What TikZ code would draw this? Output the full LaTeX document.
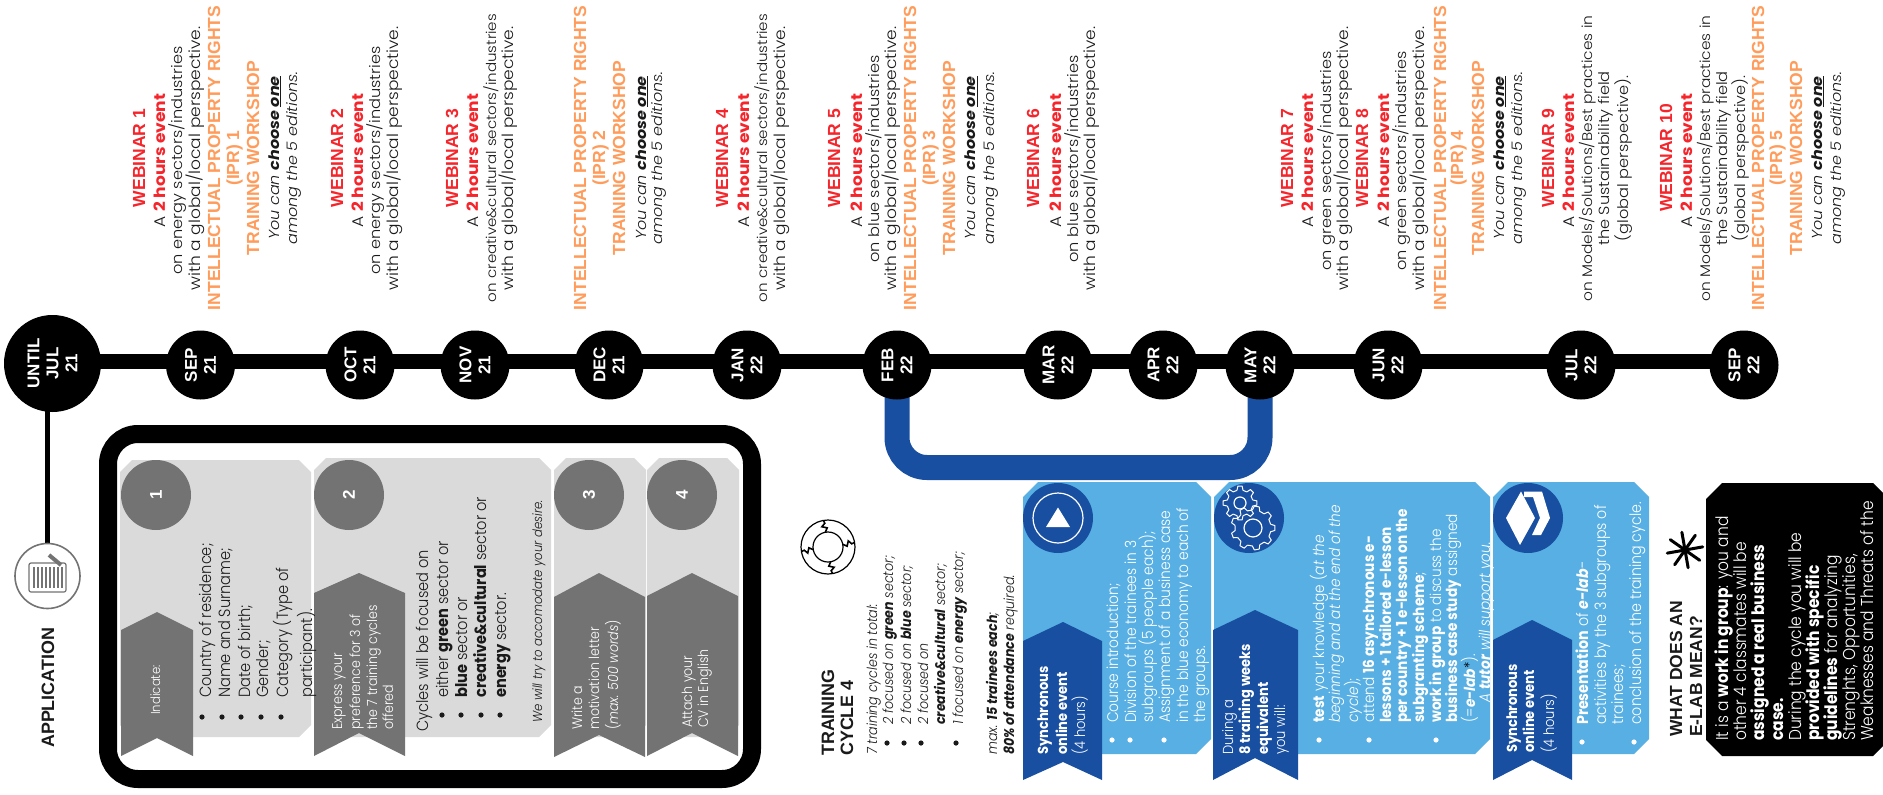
\documentclass[tikz,border=0pt]{standalone}
\usepackage{fontspec}
\usetikzlibrary{backgrounds}
\setmainfont{Poppins}[UprightFont=* Light,ItalicFont=* Light Italic,BoldFont=* Bold,BoldItalicFont=* Bold Italic,FakeStretch=0.9]
\newfontfamily\wfont{Poppins}[UprightFont=* Light,ItalicFont=* Light Italic,BoldFont=* Bold,BoldItalicFont=* Bold Italic,FakeStretch=1.1]
\newfontfamily\hdfont{Liberation Sans Bold}
\definecolor{redw}{HTML}{F5252B}
\definecolor{orw}{HTML}{FF9C5B}
\definecolor{dblue}{HTML}{184FA1}
\definecolor{lblue}{HTML}{57AFE3}
\definecolor{dgray}{HTML}{737373}
\definecolor{lgray}{HTML}{DADADA}
\definecolor{txt}{HTML}{1A1A1A}
\newcounter{tln}
\newcommand{\hf}[1]{\hdfont\fontsize{#1}{#1}\selectfont}
\newcommand{\bsz}[1]{\fontsize{#1}{#1}\selectfont}
\newcommand{\wsz}[1]{\wfont\fontsize{#1}{#1}\selectfont}
% centred rotated line
\newcommand{\cenl}[4][]{\stepcounter{tln}\node[rotate=90,anchor=base,inner sep=0pt,text=txt,#1] (t\thetln) at (#2,#3) {#4};}
% left aligned rotated line (starts at y px, reads upward)
\newcommand{\lft}[4][]{\stepcounter{tln}\node[rotate=90,anchor=base west,inner sep=0pt,text=txt,#1] (t\thetln) at (#2,#3) {#4};}
\newcommand{\webA}[2]{\cenl[text=redw]{#1}{158}{\hf{17.5}WEBINAR #2}}
\newcommand{\aline}[1]{\cenl{#1}{160.5}{\wsz{15.5}A \textcolor{redw}{\textbf{2 hours event}}}}
\newcommand{\bodyl}[3]{\cenl{#1}{#2}{\wsz{15.5}#3}}
\newcommand{\bodyz}[4]{\cenl{#1}{#2}{\wsz{#3}#4}}
\newcommand{\ipr}[5]{%
  \cenl[text=orw]{#1}{158}{\hf{17.5}INTELLECTUAL PROPERTY RIGHTS}
  \cenl[text=orw]{#2}{158}{\hf{17.5}(IPR) #5}
  \cenl[text=orw]{#3}{158}{\hf{17.5}TRAINING WORKSHOP}
  \cenl{#4}{158}{\wsz{14.5}\itshape You can \textbf{choose \underline{one}}}}
\newcommand{\amongl}[1]{\cenl{#1}{158}{\wsz{14.5}\itshape among the 5 editions.}}
\newcommand{\chamf}[6]{\fill[#6] (#1+#5,#2) -- (#3-#5,#2) -- (#3,#2+#5) -- (#3,#4-#5) -- (#3-#5,#4) -- (#1+#5,#4) -- (#1,#4-#5) -- (#1,#2+#5) -- cycle;}
\newcommand{\ribbon}[8]{\fill[#8] (#1,#5) -- (#3,#4) -- (#2,#5) -- (#2,#6) -- (#3,#7) -- (#1,#6) -- cycle;}
\newcommand{\blt}[3][txt]{\fill[#1] (#2,#3) circle (2.6);}
\newcommand{\gearshape}[5]{% cx cy R r n
  \begin{scope}[shift={(#1,#2)},white,line width=1pt,line join=round]
  \foreach \i in {1,...,#5}{
    \pgfmathsetmacro{\a}{\i*360/#5}\pgfmathsetmacro{\w}{360/#5}
    \draw (\a-0.3*\w:#4) -- (\a-0.16*\w:#3) -- (\a+0.16*\w:#3) -- (\a+0.3*\w:#4) -- (\a+0.7*\w:#4);
  }
  \end{scope}}
\begin{document}
\begin{tikzpicture}[x=1pt,y=-1pt,
  tc/.style={circle,fill=black,text=white,rotate=90,align=center,inner sep=0pt,minimum size=69pt,font=\hf{17},execute at begin node={\baselineskip=19pt}},
  numc/.style={circle,fill=dgray,text=white,inner sep=0pt,minimum size=70pt,rotate=90,font=\hf{17}},
  bluec/.style={circle,fill=dblue,inner sep=0pt,minimum size=70pt},
  ww/.style={text=white},
]
\useasboundingbox (0,0) rectangle (1883,795);

% ---- timeline circles
\node[tc,minimum size=97pt] (until) at (52.5,363.5) {UNTIL\\JUL\\21};
\node[tc] (sep21) at (200.5,365) {SEP\\21};
\node[tc] (oct21) at (360,365) {OCT\\21};
\node[tc] (nov21) at (475,365) {NOV\\21};
\node[tc] (dec21) at (609,365) {DEC\\21};
\node[tc] (jan22) at (747,365) {JAN\\22};
\node[tc] (feb22) at (897,365) {FEB\\22};
\node[tc] (mar22) at (1058,365) {MAR\\22};
\node[tc] (apr22) at (1163,365) {APR\\22};
\node[tc] (may22) at (1260,365) {MAY\\22};
\node[tc] (jun22) at (1388,365) {JUN\\22};
\node[tc] (jul22) at (1581,365) {JUL\\22};
\node[tc] (sep22) at (1744,365) {SEP\\22};
\node[circle,draw=dgray,line width=1.6pt,fill=white,minimum size=65pt,inner sep=0pt] (appicon) at (47.5,576) {};
\coordinate (bm) at (1078,467.5);

\begin{scope}[on background layer]
\fill[white] (0,0) rectangle (1883,795);
\draw[black,line width=15pt] ([yshift=1.8pt]until.center) -- ([yshift=3.3pt]sep21.center) -- ([yshift=3.3pt]oct21.center) -- ([yshift=3.3pt]nov21.center) -- ([yshift=3.3pt]dec21.center) -- ([yshift=3.3pt]jan22.center) -- ([yshift=3.3pt]feb22.center) -- ([yshift=3.3pt]mar22.center) -- ([yshift=3.3pt]apr22.center) -- ([yshift=3.3pt]may22.center) -- ([yshift=3.3pt]jun22.center) -- ([yshift=3.3pt]jul22.center) -- ([yshift=3.3pt]sep22.center);
\draw[black,line width=5pt] (appicon.center |- until.center) -- (appicon.center);
\draw[dblue,line width=25pt,rounded corners=30pt] (feb22.center) |- (bm) -| (may22.center);
\end{scope}

% ---- webinar columns
\webA{145}{1}\aline{165}\bodyz{182}{160.5}{14.7}{on energy sectors/industries}\bodyl{200}{158.5}{with a global/local perspective.}
\ipr{220}{239}{259}{279}{1}\amongl{297}
\webA{343}{2}\aline{363}\bodyz{380}{160.5}{14.7}{on energy sectors/industries}\bodyl{398}{158.5}{with a global/local perspective.}
\webA{458}{3}\aline{478}\bodyz{496}{158}{13.7}{on creative\&cultural sectors/industries}\bodyl{513}{158.5}{with a global/local perspective.}
\ipr{586}{605}{625}{646}{2}\amongl{662}
\webA{728}{4}\aline{749}\bodyz{767}{158}{13.7}{on creative\&cultural sectors/industries}\bodyl{785}{158.5}{with a global/local perspective.}
\webA{840}{5}\aline{862}\bodyz{879}{159}{14.7}{on blue sectors/industries}\bodyl{896}{158.5}{with a global/local perspective.}
\ipr{916}{935}{955}{975.5}{3}\amongl{994}
\webA{1039}{6}\aline{1061}\bodyz{1078}{159}{14.7}{on blue sectors/industries}\bodyl{1095}{158.5}{with a global/local perspective.}
\webA{1293}{7}\aline{1313}\bodyz{1331}{161}{14.7}{on green sectors/industries}\bodyl{1348}{158.5}{with a global/local perspective.}
\webA{1368}{8}\aline{1389}\bodyz{1406}{161}{14.7}{on green sectors/industries}\bodyl{1424}{158.5}{with a global/local perspective.}
\ipr{1446}{1463}{1484}{1504}{4}\amongl{1522}
\webA{1554}{9}\aline{1574}\bodyz{1592}{158.5}{14}{on Models/Solutions/Best practices in}\bodyz{1609}{158.5}{14.7}{the Sustainability field}\bodyz{1628}{158.5}{14.7}{(global perspective).}
\webA{1672}{10}\aline{1692}\bodyz{1710}{158.5}{14}{on Models/Solutions/Best practices in}\bodyz{1727}{158.5}{14.7}{the Sustainability field}\bodyz{1745}{158.5}{14.7}{(global perspective).}
\ipr{1764}{1782}{1802}{1822}{5}\amongl{1841}

% ---- application
\lft{54}{748}{\hf{17.9}APPLICATION}
\begin{scope}[dgray]
\draw[line width=1.2pt,rounded corners=2pt] (29,563) rectangle (66,592);
\foreach \xx in {34,38,...,62}{\draw[line width=1.2pt] (\xx,567) -- (\xx,588);}
\draw[line width=4pt] (49,555) -- (61,565);
\end{scope}

\draw[black,line width=18pt,rounded corners=30pt] (108,434) rectangle (752,779);
\chamf{120}{460}{311}{737}{12}{lgray}
\chamf{314}{458}{551}{737}{12}{lgray}
\chamf{554}{458}{646}{737}{12}{lgray}
\chamf{647}{458}{739}{737}{12}{lgray}
\ribbon{121}{193}{157}{612}{630}{756}{738}{dgray}
\ribbon{314}{405}{359}{573}{593}{756}{733}{dgray}
\ribbon{554}{645}{599}{573}{597}{757}{735}{dgray}
\ribbon{647}{738}{692}{573}{596}{756}{733}{dgray}
\node[numc] (n1) at (156,495) {1};
\node[numc] (n2) at (349,495) {2};
\node[numc] (n3) at (589,495) {3};
\node[numc] (n4) at (682,495) {4};

\lft[ww]{160}{715}{\bsz{13}Indicate:}
\foreach \xx in {202,222,241,261,281}{\blt{\xx}{717}}
\lft{211}{698}{\bsz{16.2}Country of residence;}
\lft{230}{698}{\bsz{16.2}Name and Surname;}
\lft{250}{698}{\bsz{16.2}Date of birth;}
\lft{268}{698}{\bsz{16.2}Gender;}
\lft{288}{698}{\bsz{16.2}Category (Type of}
\lft{312}{698}{\bsz{16.2}participant).}

\lft[ww]{342}{730}{\bsz{14}Express your}
\lft[ww]{360}{730}{\bsz{14}preference for 3 of}
\lft[ww]{377}{730}{\bsz{14}the 7 training cycles}
\lft[ww]{393}{730}{\bsz{14}offered}
\lft{428}{732}{\bsz{16.2}Cycles will be focused on}
\foreach \xx in {442,461,481,500}{\blt{\xx}{715}}
\lft{448}{698}{\bsz{16.2}either \textbf{green} sector or}
\lft{467}{698}{\bsz{16.2}\textbf{blue} sector or}
\lft{486}{698}{\bsz{16.2}\textbf{creative\&cultural} sector or}
\lft{506}{698}{\bsz{16.2}\textbf{energy} sector.}
\lft{542}{723}{\bsz{13}\itshape We will try to accomodate your desire.}

\lft[ww]{582}{730}{\bsz{14}Write a}
\lft[ww]{599}{730}{\bsz{14}motivation letter}
\lft[ww]{618}{730}{\bsz{14}(\textit{max. 500 words})}
\lft[ww]{692}{728}{\bsz{14}Attach your}
\lft[ww]{708}{728}{\bsz{14}CV in English}

% ---- training cycle
\lft{834}{756}{\hf{17.9}TRAINING}
\lft{853}{756}{\hf{17.9}CYCLE 4}
\begin{scope}[shift={(828,547)},black,line width=1.2pt]
\draw (0,0) circle (27);
\draw (0,0) circle (15);
\foreach \a in {10,100,190,280}{
 \draw[rotate=\a,line width=1.6pt] (15,0) -- (19,2.5) -- (21,-2.5) -- (24,1) -- (27,0);
}
\end{scope}
\lft{877}{755}{\bsz{14}\itshape 7 training cycles in total:}
\foreach \xx in {887,904,921,956}{\blt{\xx}{743}}
\lft{893}{725}{\bsz{14}\itshape 2 focused on \textbf{green} sector;}
\lft{911}{725}{\bsz{14}\itshape 2 focused on \textbf{blue} sector;}
\lft{928}{725}{\bsz{14}\itshape 2 focused on}
\lft{945}{725}{\bsz{14}\itshape \textbf{creative\&cultural} sector;}
\lft{963}{725}{\bsz{14}\itshape 1 focused on \textbf{energy} sector;}
\lft{997}{755}{\bsz{14}\itshape max. \textbf{15 trainees each};}
\lft{1014}{755}{\bsz{14}\itshape \textbf{80\% of attendance} required.}

% ---- blue cards
\chamf{1023}{482}{1211}{754}{15}{lblue}
\chamf{1214}{482}{1490}{754}{15}{lblue}
\chamf{1493}{482}{1649}{754}{15}{lblue}
\ribbon{1023}{1102}{1063}{622}{641}{780}{762}{dblue}
\ribbon{1213}{1298}{1255}{610}{630}{780}{758}{dblue}
\ribbon{1493}{1572}{1532}{620}{640}{780}{760}{dblue}
\node[bluec] (b1) at (1058,518) {};
\node[bluec] (b2) at (1249,518) {};
\node[bluec] (b3) at (1528,518) {};
\draw[white,line width=1.2pt] (b1.center) circle (25);
\fill[white] (1058,507.5) -- (1070,527) -- (1046,527) -- cycle;
\gearshape{1253}{528}{22}{18}{9}
\draw[white,line width=1.2pt] (1253,528) circle (9);
\gearshape{1240}{503}{17}{13}{8}
\draw[white,line width=1.2pt] (1240,503) circle (6);
\fill[white] (1521,491.5) -- (1506,518) -- (1520,545) -- (1535,518) -- cycle;
\fill[white] (1524,491.5) -- (1542,491.5) -- (1550,518) -- (1541,535) -- (1532,535) -- (1540,518) -- (1533,497) -- (1524,497) -- cycle;

\lft[ww]{1048}{755}{\bsz{14.5}\textbf{Synchronous}}
\lft[ww]{1067}{755}{\bsz{14.5}\textbf{online event}}
\lft[ww]{1085}{755}{\bsz{14.5}(4 hours)}
\foreach \xx in {1112,1130,1164}{\blt[white]{\xx}{740}}
\lft[ww]{1118}{723}{\bsz{15.4}Course introduction;}
\lft[ww]{1136}{723}{\bsz{15.4}Division of the trainees in 3}
\lft[ww]{1153}{723}{\bsz{15.4}subgroups (5 people each);}
\lft[ww]{1170}{723}{\bsz{15.4}Assignment of a business case}
\lft[ww]{1188}{723}{\bsz{15.4}in the blue economy to each of}
\lft[ww]{1205}{723}{\bsz{15.4}the groups.}

\lft[ww]{1233}{755}{\bsz{14.5}During a}
\lft[ww]{1250}{755}{\bsz{14.5}\textbf{8 training weeks}}
\lft[ww]{1268}{755}{\bsz{14.5}\textbf{equivalent}}
\lft[ww]{1285}{755}{\bsz{14.5}you will:}
\foreach \xx in {1319,1369,1436}{\blt[white]{\xx}{740}}
\lft[ww]{1324}{723}{\bsz{15.2}\textbf{test} your knowledge (\textit{at the}}
\lft[ww]{1340}{723}{\bsz{15.2}\textit{beginning and at the end of the}}
\lft[ww]{1358}{723}{\bsz{15.2}\textit{cycle});}
\lft[ww]{1374}{723}{\bsz{15.2}attend \textbf{16 asynchronous e-}}
\lft[ww]{1391}{723}{\bsz{15.2}\textbf{lessons + 1 tailored e-lesson}}
\lft[ww]{1407}{723}{\bsz{15.2}\textbf{per country + 1 e-lesson on the}}
\lft[ww]{1424}{723}{\bsz{15.2}\textbf{subgranting scheme};}
\lft[ww]{1441}{723}{\bsz{15.2}\textbf{work in group} to discuss the}
\lft[ww]{1457}{723}{\bsz{15.2}\textbf{business case study} assigned}
\lft[ww]{1475}{723}{\bsz{15.2}(=\textbf{\textit{e-lab}}\textcolor{black}{*}).}
\lft[ww]{1490}{703}{\bsz{15.2}\itshape A \textbf{tutor} will support you.}

\lft[ww]{1517}{753}{\bsz{14.5}\textbf{Synchronous}}
\lft[ww]{1534}{753}{\bsz{14.5}\textbf{online event}}
\lft[ww]{1554}{753}{\bsz{14.5}(4 hours)}
\foreach \xx in {1582,1634}{\blt[white]{\xx}{742}}
\lft[ww]{1588}{725}{\bsz{15.8}\textbf{Presentation} of \textbf{\textit{e-lab}}-}
\lft[ww]{1606}{725}{\bsz{15.8}activities by the 3 subgroups of}
\lft[ww]{1623}{725}{\bsz{15.8}trainees;}
\lft[ww]{1641}{725}{\bsz{15.8}conclusion of the training cycle.}

% ---- e-lab
\lft{1682}{737}{\hf{17.5}WHAT DOES AN}
\lft{1702}{737}{\hf{17.5}E-LAB MEAN?}
\begin{scope}[shift={(1685,550)},black,line width=3pt,line cap=round]
\foreach \a in {0,45,90,135}{\draw[rotate=\a+10] (-18,0) -- (18,0);}
\end{scope}
\fill[black] (1722,483) -- (1873,483) -- (1883,493) -- (1883,746) -- (1873,756) -- (1722,756) -- (1706,740) -- (1706,499) -- cycle;
\lft[ww]{1728}{741}{\bsz{17.2}It is a \textbf{work in group}: you and}
\lft[ww]{1746}{741}{\bsz{17.2}other 4 classmates will be}
\lft[ww]{1764}{741}{\bsz{17.2}\textbf{assigned a real business}}
\lft[ww]{1783}{741}{\bsz{17.2}\textbf{case.}}
\lft[ww]{1801}{741}{\bsz{17.2}During the cycle you will be}
\lft[ww]{1819}{741}{\bsz{17.2}\textbf{provided with specific}}
\lft[ww]{1837}{741}{\bsz{17.2}\textbf{guidelines} for analyzing}
\lft[ww]{1855}{741}{\bsz{17.2}Strenghts, Opportunities,}
\lft[ww]{1873}{741}{\bsz{17.2}Weaknesses and Threats of the}
\end{tikzpicture}
\end{document}
